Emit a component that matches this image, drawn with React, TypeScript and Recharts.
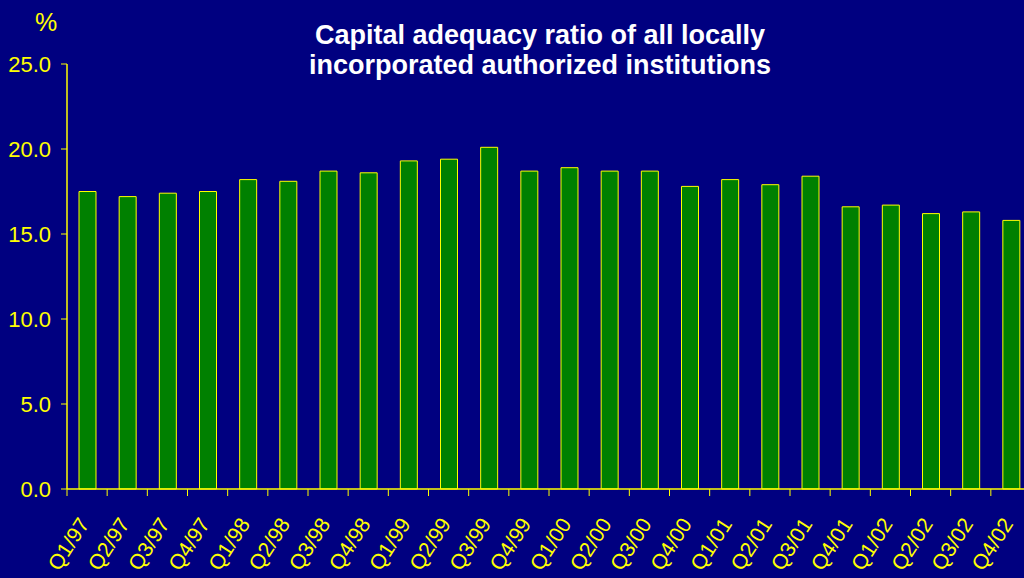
import React from "react";
import { BarChart, Bar, XAxis, YAxis } from "recharts";

const quarters = [
  "Q1/97", "Q2/97", "Q3/97", "Q4/97",
  "Q1/98", "Q2/98", "Q3/98", "Q4/98",
  "Q1/99", "Q2/99", "Q3/99", "Q4/99",
  "Q1/00", "Q2/00", "Q3/00", "Q4/00",
  "Q1/01", "Q2/01", "Q3/01", "Q4/01",
  "Q1/02", "Q2/02", "Q3/02", "Q4/02",
];
const ratio = [
  17.5, 17.2, 17.4, 17.5,
  18.2, 18.1, 18.7, 18.6,
  19.3, 19.4, 20.1, 18.7,
  18.9, 18.7, 18.7, 17.8,
  18.2, 17.9, 18.4, 16.6,
  16.7, 16.2, 16.3, 15.8,
];
const yTicks = [0, 5, 10, 15, 20, 25];

const data = quarters.map((q, i) => ({ q, ratio: ratio[i] }));

const NAVY = "#000080";
const YELLOW = "#ffff00";
const FONT = "'Liberation Sans', Arial, sans-serif";

// tick marks sit on the category boundaries, labels slanted under the centre
function QuarterTick(props: any) {
  const { x, y, payload } = props;
  const off = payload?.offset ?? 20;
  const lx = x + 3;
  const ly = y + 28;
  return (
    <g>
      <line x1={x - off} x2={x - off} y1={y - 7} y2={y} stroke={YELLOW} strokeWidth={1} />
      <text
        x={lx}
        y={ly}
        textAnchor="end"
        fill={YELLOW}
        fontSize={21}
        fontFamily={FONT}
        transform={`rotate(-57, ${lx}, ${ly})`}
      >
        {payload.value}
      </text>
    </g>
  );
}

export default function App() {
  return (
    <div style={{ position: "absolute", left: 0, top: 0, width: 1024, height: 578, overflow: "hidden", background: NAVY, fontFamily: FONT }}>
      <div style={{ position: "absolute", left: 35, top: 10, color: YELLOW, fontSize: 25, lineHeight: 1 }}>%</div>
      <div style={{
        position: "absolute", left: 240, width: 600, top: 20, textAlign: "center",
        color: "#ffffff", fontWeight: "bold", fontSize: 27, lineHeight: "30px",
      }}>
        Capital adequacy ratio of all locally<br />incorporated authorized institutions
      </div>
      <BarChart width={1040} height={578} data={data} margin={{ top: 64, right: 9, bottom: 0, left: 0 }} barCategoryGap={0}>
        <XAxis
          dataKey="q"
          height={89}
          interval={0}
          tickLine={false}
          tickSize={7}
          tickMargin={0}
          axisLine={{ stroke: YELLOW, strokeWidth: 1.5 }}
          tick={<QuarterTick />}
        />
        <YAxis
          width={67}
          domain={[0, 25]}
          ticks={yTicks}
          interval={0}
          tickSize={6}
          tickMargin={10}
          tickFormatter={(v: number) => v.toFixed(1)}
          axisLine={{ stroke: YELLOW, strokeWidth: 1.5 }}
          tickLine={{ stroke: YELLOW }}
          tick={{ fill: YELLOW, fontSize: 22, fontFamily: FONT }}
        />
        <Bar dataKey="ratio" barSize={17} fill="#008000" stroke={YELLOW} strokeWidth={1} isAnimationActive={false} />
      </BarChart>
    </div>
  );
}
